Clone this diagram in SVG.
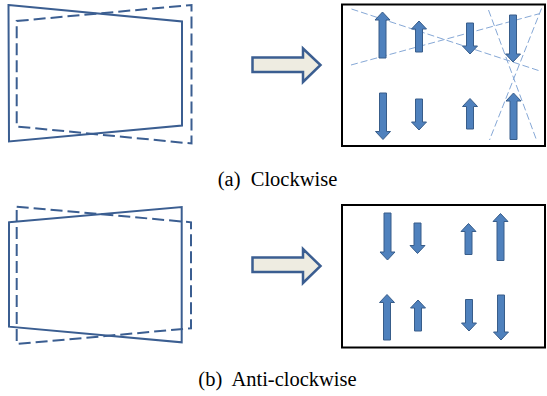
<svg xmlns="http://www.w3.org/2000/svg" width="547" height="396" viewBox="0 0 547 396">
  <style>
    .quad { fill: none; stroke: #3B5E91; stroke-width: 2; stroke-linejoin: miter; }
    .dash { stroke-dasharray: 12 5; }
    .bigarrow { fill: #EEECE1; stroke: #3B5E91; stroke-width: 2.5; stroke-linejoin: miter; }
    .frame { fill: #FFFFFF; stroke: #000000; stroke-width: 2; }
    .vec { fill: #4F81BD; stroke: #385D8A; stroke-width: 1; }
    .guide { fill: none; stroke: #86A8D6; stroke-width: 1; stroke-dasharray: 7 3; }
    .caption { font-family: "Liberation Serif", "Times New Roman", serif; font-size: 20.5px; fill: #000000; text-anchor: middle; }
  </style>

  <!-- (a) clockwise: frame before / after -->
  <g id="shape-a">
    <polygon class="quad" points="8.5,5 182,21.5 182,125.5 9,141.5"/>
    <polygon class="quad dash" points="16.7,21 191.5,5 191.5,143.5 16.7,126.5"/>
  </g>

  <g id="arrow-a">
    <path class="bigarrow" d="M252.5 57.5 H303 V48.5 L320.5 65 L303 82 V72 H252.5 Z"/>
  </g>

  <g id="field-a">
    <rect class="frame" x="342" y="4.5" width="203" height="141.5"/>
    <g id="guides-a">
      <line class="guide" x1="351.5" y1="9" x2="538.5" y2="70.5"/>
      <line class="guide" x1="351" y1="65" x2="540" y2="13.5"/>
      <line class="guide" x1="488.5" y1="10" x2="536.5" y2="140"/>
      <line class="guide" x1="541.5" y1="8.5" x2="489.5" y2="140"/>
    </g>
    <path class="vec" d="M382.5 12 L390 20 H386 V58 H379 V20 H375 Z"/>
    <path class="vec" d="M419 21 L426.5 29 H422.5 V52 H415.5 V29 H411.5 Z"/>
    <path class="vec" d="M466.5 23 H473.5 V46 H477.5 L470 54 L462.5 46 H466.5 Z"/>
    <path class="vec" d="M509.5 15 H516.5 V54 H520.5 L513 62 L505.5 54 H509.5 Z"/>
    <path class="vec" d="M379.5 93 H386.5 V131.5 H390.5 L383 139.5 L375.5 131.5 H379.5 Z"/>
    <path class="vec" d="M415.5 99 H422.5 V122 H426.5 L419 130 L411.5 122 H415.5 Z"/>
    <path class="vec" d="M470 98.5 L477.5 106.5 H473.5 V129 H466.5 V106.5 H462.5 Z"/>
    <path class="vec" d="M513.5 93 L521 101 H517 V139.5 H510 V101 H506 Z"/>
  </g>

  <text class="caption" x="277.5" y="185.5" xml:space="preserve">(a)  Clockwise</text>

  <!-- (b) anti-clockwise: frame before / after -->
  <g id="shape-b">
    <polygon class="quad" points="9,222.3 181.7,207 181.7,342.3 9,326.7"/>
    <polygon class="quad dash" points="16.7,206.7 191,222.3 191,328.3 16.7,344"/>
  </g>

  <g id="arrow-b">
    <path class="bigarrow" d="M252.5 257.5 H303 V249 L320.5 266 L303 283 V272 H252.5 Z"/>
  </g>

  <g id="field-b">
    <rect class="frame" x="342" y="205" width="203" height="142.5"/>
    <path class="vec" d="M384 213 H391 V252 H395 L387.5 260 L380 252 H384 Z"/>
    <path class="vec" d="M414 223 H421 V245.5 H425 L417.5 253.5 L410 245.5 H414 Z"/>
    <path class="vec" d="M468.5 223.5 L476 231.5 H472 V254.5 H465 V231.5 H461 Z"/>
    <path class="vec" d="M500.5 213.5 L508 221.5 H504 V260.5 H497 V221.5 H493 Z"/>
    <path class="vec" d="M387 294.5 L394.5 302.5 H390.5 V340 H383.5 V302.5 H379.5 Z"/>
    <path class="vec" d="M418 300 L425.5 308 H421.5 V331 H414.5 V308 H410.5 Z"/>
    <path class="vec" d="M465.5 299.5 H472.5 V323 H476.5 L469 331 L461.5 323 H465.5 Z"/>
    <path class="vec" d="M497.5 295 H504.5 V332 H508.5 L501 340 L493.5 332 H497.5 Z"/>
  </g>

  <text class="caption" x="277.5" y="385.5" xml:space="preserve">(b)  Anti-clockwise</text>
</svg>
